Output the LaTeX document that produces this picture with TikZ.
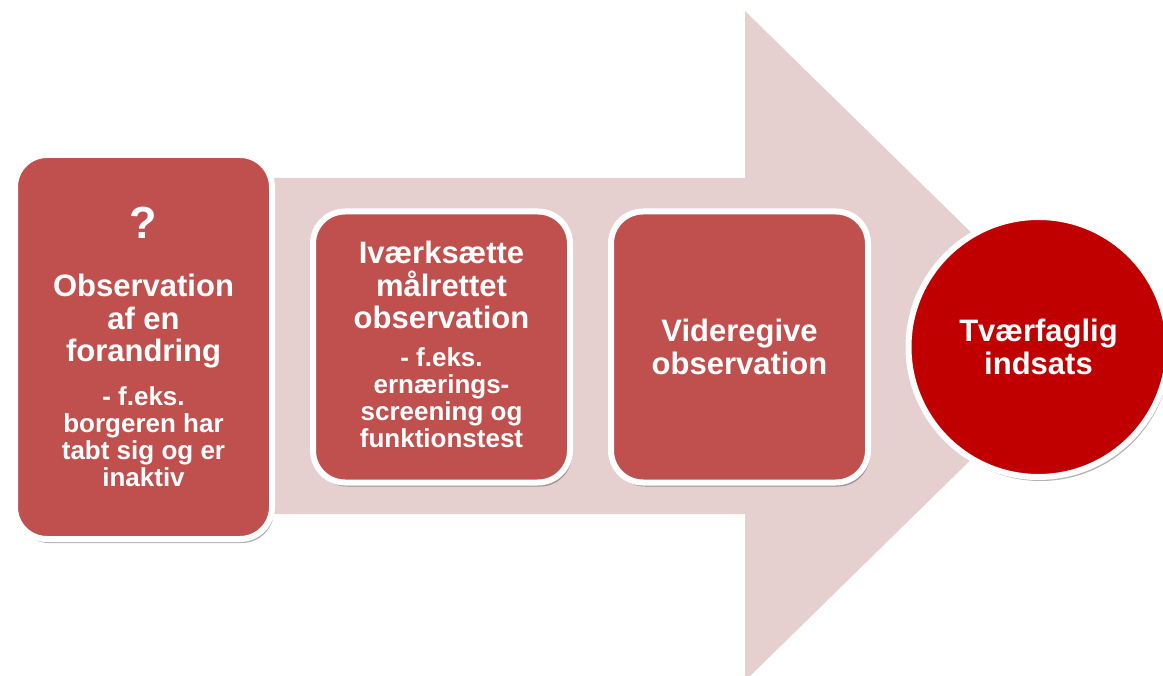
\documentclass[tikz,border=0pt]{standalone}
\usepackage{fontspec}
\setmainfont{Liberation Sans}
\usetikzlibrary{positioning,shadows}
\definecolor{boksrod}{HTML}{C0504D}
\definecolor{cirkelrod}{HTML}{C00000}
\definecolor{pilrosa}{HTML}{E6CFCF}
\newcommand{\stortekst}{\fontsize{31}{32.5}\selectfont\spaceskip=0.278em\xspaceskip=0.278em}
\newcommand{\lilletekst}{\fontsize{26}{27}\selectfont\spaceskip=0.278em\xspaceskip=0.278em}
\newcommand{\spoergsmaal}{\fontsize{45}{45}\selectfont}
\tikzset{>=latex}
\tikzset{
  skygge/.style={drop shadow={shadow xshift=2pt, shadow yshift=-4pt, opacity=0.3, fill=black}},
  boks/.style={rectangle, draw=white, line width=6pt, rounded corners=32pt, fill=boksrod, minimum width=257pt, minimum height=271pt, text width=240pt, align=center, text=white, font=\bfseries, skygge},
  cirkel/.style={circle, draw=white, line width=6pt, fill=cirkelrod, minimum size=260pt, text width=210pt, align=center, text=white, font=\bfseries, skygge}
}

\begin{document}
\begin{tikzpicture}[x=1pt, y=-1pt]
      \useasboundingbox (0,0) rectangle (1163,676);
      % stor pil bag boksene
      \fill[pilrosa] (270,178) -- (745,178) -- (745,11) -- (1087,346) -- (745,681) -- (745,514) -- (270,514) -- cycle;
      \node[boks, minimum height=384pt] (n1) at (143.5,347) {\spoergsmaal ?\par\vspace{25.5pt}\stortekst Observation\\af en\\forandring\par\vspace{16.5pt}\lilletekst - f.eks.\\borgeren har\\tabt sig og er\\inaktiv\par};
      \node[boks, right of=n1, node distance=298pt] (n2) {\stortekst Iværksætte\\målrettet\\observation\par\vspace{10.5pt}\lilletekst - f.eks.\\ernærings-\\screening og\\funktionstest\par\vspace{5pt}};
      \node[boks, right of=n2, node distance=298pt] (n3) {\stortekst Videregive\\observation\par};
      \node[cirkel, right of=n3, node distance=299pt] (n4) {\stortekst Tværfaglig\\indsats\par};
    \end{tikzpicture}
\end{document}
